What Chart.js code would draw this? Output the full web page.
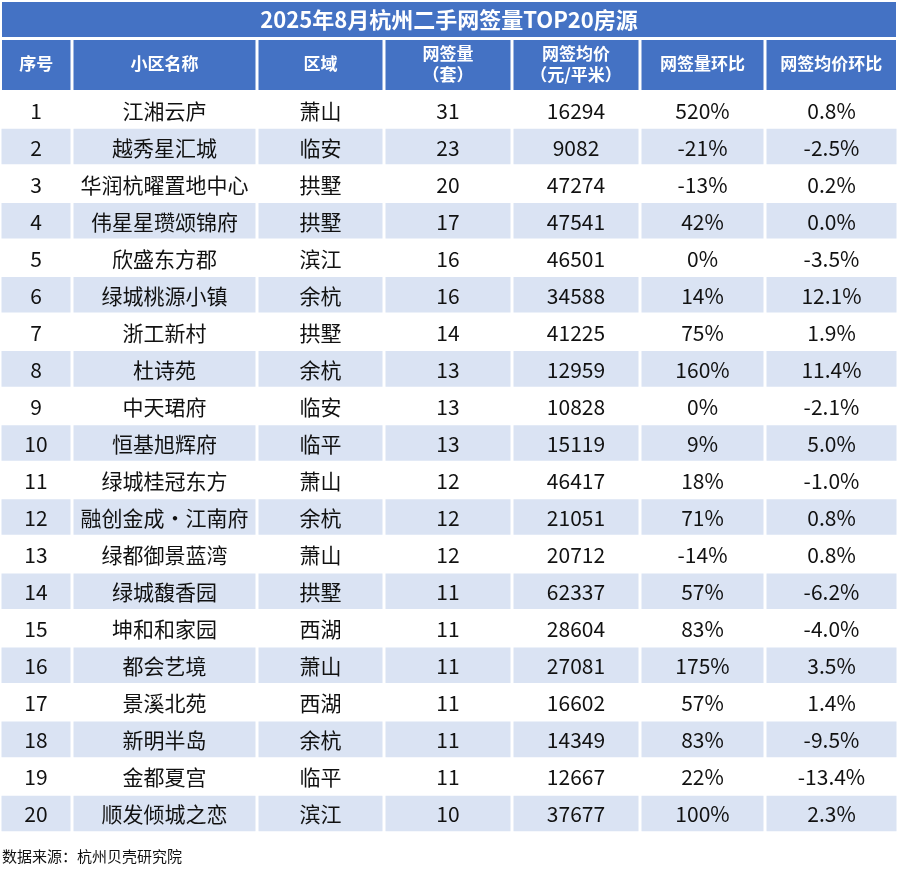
<!DOCTYPE html>
<html>
<head>
<meta charset="utf-8">
<script src="https://cdn.jsdelivr.net/npm/chart.js@4"></script>
<style>
  body { margin: 0; background: #fff; }
  #wrap { width: 898px; height: 876px; }
</style>
</head>
<body>
<div id="wrap"><canvas id="myChart"></canvas></div>
<script>
// data
var title = "2025年8月杭州二手网签量TOP20房源";
var headers = [["序号"], ["小区名称"], ["区域"], ["网签量", "（套）"], ["网签均价", "（元/平米）"], ["网签量环比"], ["网签均价环比"]];
var names = ["江湘云庐", "越秀星汇城", "华润杭曜置地中心", "伟星星瓒颂锦府", "欣盛东方郡", "绿城桃源小镇", "浙工新村", "杜诗苑", "中天珺府", "恒基旭辉府",
  "绿城桂冠东方", "融创金成·江南府", "绿都御景蓝湾", "绿城馥香园", "坤和和家园", "都会艺境", "景溪北苑", "新明半岛", "金都夏宫", "顺发倾城之恋"];
var districts = ["萧山", "临安", "拱墅", "拱墅", "滨江", "余杭", "拱墅", "余杭", "临安", "临平",
  "萧山", "余杭", "萧山", "拱墅", "西湖", "萧山", "西湖", "余杭", "临平", "滨江"];
var deals = [31, 23, 20, 17, 16, 16, 14, 13, 13, 13, 12, 12, 12, 11, 11, 11, 11, 11, 11, 10];
var prices = [16294, 9082, 47274, 47541, 46501, 34588, 41225, 12959, 10828, 15119,
  46417, 21051, 20712, 62337, 28604, 27081, 16602, 14349, 12667, 37677];
var dealChg = ["520%", "-21%", "-13%", "42%", "0%", "14%", "75%", "160%", "0%", "9%",
  "18%", "71%", "-14%", "57%", "83%", "175%", "57%", "83%", "22%", "100%"];
var priceChg = ["0.8%", "-2.5%", "0.2%", "0.0%", "-3.5%", "12.1%", "1.9%", "11.4%", "-2.1%", "5.0%",
  "-1.0%", "0.8%", "0.8%", "-6.2%", "-4.0%", "3.5%", "1.4%", "-9.5%", "-13.4%", "2.3%"];
var source = "数据来源：杭州贝壳研究院";

// column edges on the x scale
var colEdges = [0, 72, 257, 384, 512, 640, 765, 898];
var rowLabels = deals.map(function(d, i) { return String(i + 1); });

var blue = "#4472c4";
var stripe = "#dae3f3";
var font = "'Noto Sans CJK SC', 'Noto Sans', sans-serif";

function cellText(r, c) {
  return [String(r + 1), names[r], districts[r], String(deals[r]), String(prices[r]), dealChg[r], priceChg[r]][c];
}

var datasets = [];
for (var c = 0; c < 7; c++) {
  datasets.push({
    data: rowLabels.map(function() { return [colEdges[c] + 1.5, colEdges[c + 1] - 1.5]; }),
    backgroundColor: rowLabels.map(function(l, i) { return i % 2 ? stripe : "#ffffff"; }),
    barPercentage: 1,
    categoryPercentage: 0.96,
    grouped: false
  });
}

var tablePlugin = {
  id: "tableText",
  afterDatasetsDraw: function(chart) {
    var ctx = chart.ctx;
    var xs = chart.scales.x, ys = chart.scales.y;
    ctx.save();
    // title band
    ctx.fillStyle = blue;
    ctx.fillRect(xs.getPixelForValue(0) + 2, 2, xs.getPixelForValue(898) - 4, 35);
    ctx.fillStyle = "#fff";
    ctx.font = "bold 22px " + font;
    ctx.textAlign = "center";
    ctx.textBaseline = "middle";
    ctx.fillText(title, xs.getPixelForValue(449), 20);
    // header
    for (var c = 0; c < 7; c++) {
      var x0 = xs.getPixelForValue(colEdges[c]) + (c ? 1.5 : 2);
      var x1 = xs.getPixelForValue(colEdges[c + 1]) - (c < 6 ? 1.5 : 2);
      ctx.fillStyle = blue;
      ctx.fillRect(x0, 40, x1 - x0, 50);
      ctx.fillStyle = "#fff";
      ctx.font = "bold 17px " + font;
      var cx = (x0 + x1) / 2;
      var h = headers[c];
      if (h.length === 1) ctx.fillText(h[0], cx, 64);
      else { ctx.fillText(h[0], cx, 54); ctx.fillText(h[1], cx, 75); }
    }
    // body text
    ctx.fillStyle = "#111";
    ctx.font = "21px " + font;
    for (var r = 0; r < rowLabels.length; r++) {
      var y = ys.getPixelForValue(r);
      for (var k = 0; k < 7; k++) {
        var mx = xs.getPixelForValue((colEdges[k] + colEdges[k + 1]) / 2);
        ctx.fillText(cellText(r, k), mx, y + 1);
      }
    }
    // footer
    ctx.textAlign = "left";
    ctx.font = "15px " + font;
    ctx.fillText(source, 2, 856);
    ctx.restore();
  }
};

new Chart("myChart", {
  type: "bar",
  data: { labels: rowLabels, datasets: datasets },
  options: {
    indexAxis: "y",
    responsive: true,
    maintainAspectRatio: false,
    animation: false,
    layout: { padding: { top: 91, bottom: 44, left: 0, right: 0 } },
    plugins: { legend: { display: false }, tooltip: { enabled: false } },
    scales: {
      x: { type: "linear", min: 0, max: 898, display: false },
      y: { display: false }
    }
  },
  plugins: [tablePlugin]
});
</script>
</body>
</html>
